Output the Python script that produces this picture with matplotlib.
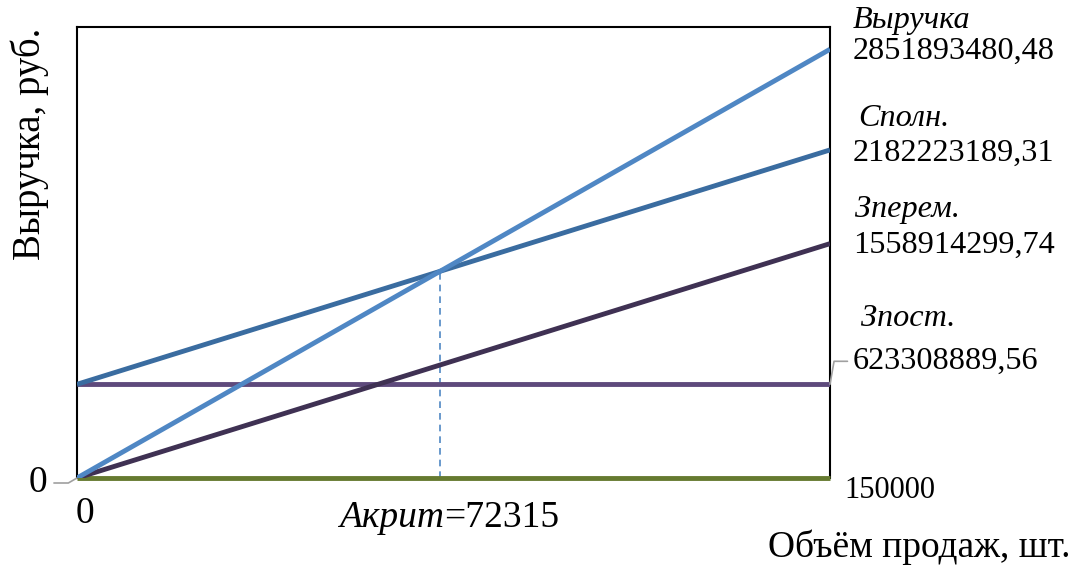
import matplotlib
matplotlib.use("Agg")
import matplotlib.pyplot as plt

plt.rcParams['font.family'] = ['Liberation Serif', 'DejaVu Serif']

# Sales volume range, units
volume = [0, 150000]
# Series values at the start and end of the volume range, rub.
revenue = [0, 2851893480.48]
total_costs = [623308889.56, 2182223189.31]
variable_costs = [0, 1558914299.74]
fixed_costs = [623308889.56, 623308889.56]
zero_line = [0, 0]
break_even = 72315

series_names = ["Выручка", "Сполн.", "Зперем.", "Зпост."]

c_rev = "#4f87c4"
c_tot = "#3a6ca0"
c_var = "#3f3153"
c_fix = "#5e4a7c"
c_zero = "#667a30"

FS = 23.2     # series labels
FS_BIG = 27   # axis titles and break-even label

fig = plt.figure(figsize=(10.77, 5.68), dpi=100)
ax = fig.add_axes([77 / 1077, 1 - 478 / 568, (830 - 77) / 1077, (478 - 27) / 568])
ax.set_xlim(volume[0], volume[1])
ax.set_ylim(0, 3.0e9)
ax.set_xticks([])
ax.set_yticks([])
for s in ["left", "right", "top"]:
    ax.spines[s].set_linewidth(1.5)
    ax.spines[s].set_color("black")
ax.spines["bottom"].set_visible(False)

lw = 3.5
ax.plot(volume, zero_line, color=c_zero, lw=lw, solid_capstyle="butt", zorder=3, clip_on=False)
ax.plot(volume, fixed_costs, color=c_fix, lw=lw, solid_capstyle="butt", zorder=3)
ax.plot(volume, variable_costs, color=c_var, lw=lw, solid_capstyle="butt", zorder=4)
ax.plot(volume, total_costs, color=c_tot, lw=lw, solid_capstyle="butt", zorder=5)
ax.plot(volume, revenue, color=c_rev, lw=lw, solid_capstyle="butt", zorder=6)

# break-even marker
slope_rev = (revenue[1] - revenue[0]) / (volume[1] - volume[0])
be_value = revenue[0] + slope_rev * break_even
ax.plot([break_even, break_even], [0, be_value], color=c_rev, lw=1.2,
        ls=(0, (4, 3)), zorder=2)


def fmt(v):
    return f"{v:.2f}".replace(".", ",")


x_end = volume[1]
label_specs = [
    (revenue[1], series_names[0], -2, 31, 0),
    (total_costs[1], series_names[1], -3, 34, 5),
    (variable_costs[1], series_names[2], -2, 36, 2),
]
for yv, name, dv, dn, nx in label_specs:
    ax.annotate(fmt(yv), xy=(x_end, yv), xytext=(23, dv), textcoords="offset pixels",
                ha="left", va="center", fontsize=FS, annotation_clip=False)
    ax.annotate(name, xy=(x_end, yv), xytext=(23 + nx, dv + dn), textcoords="offset pixels",
                ha="left", va="center", fontsize=FS, style="italic", annotation_clip=False)

# fixed costs label with leader line
ax.annotate(fmt(fixed_costs[1]), xy=(x_end, fixed_costs[1]), xytext=(23, 23),
            textcoords="offset pixels", ha="left", va="center", fontsize=FS,
            annotation_clip=False,
            arrowprops=dict(arrowstyle="-", color="#a0a0a0", lw=1.2,
                            connectionstyle="angle,angleA=0,angleB=80,rad=0",
                            shrinkA=2, shrinkB=0))
ax.annotate(series_names[3], xy=(x_end, fixed_costs[1]), xytext=(31, 66),
            textcoords="offset pixels", ha="left", va="center", fontsize=FS,
            style="italic", annotation_clip=False)

# zero labels
ax.annotate("0", xy=(0, 0), xytext=(-30, -5), textcoords="offset pixels",
            ha="right", va="center", fontsize=FS_BIG, annotation_clip=False,
            arrowprops=dict(arrowstyle="-", color="#a0a0a0", lw=1.2,
                            connectionstyle="angle,angleA=0,angleB=30,rad=0",
                            shrinkA=3, shrinkB=0))
ax.annotate("0", xy=(0, 0), xytext=(8, -36), textcoords="offset pixels",
            ha="center", va="center", fontsize=FS_BIG, annotation_clip=False)
ax.annotate(f"{volume[1]}", xy=(x_end, 0), xytext=(60, -12), textcoords="offset pixels",
            ha="center", va="center", fontsize=22, annotation_clip=False)

# break-even volume label
ax.annotate("Акрит", xy=(break_even, 0), xytext=(4, -40), textcoords="offset pixels",
            ha="right", va="center", fontsize=FS_BIG, style="italic", annotation_clip=False)
ax.annotate(f"={break_even}", xy=(break_even, 0), xytext=(4, -40), textcoords="offset pixels",
            ha="left", va="center", fontsize=FS_BIG, annotation_clip=False)

# axis titles
fig.text(1070 / 1077, 1 - 547 / 568, "Объём продаж, шт.", ha="right", va="center", fontsize=FS_BIG)
fig.text(30 / 1077, 1 - 144 / 568, "Выручка, руб.", ha="center", va="center",
         rotation=90, fontsize=28)

fig.savefig("out.png", dpi=100)
